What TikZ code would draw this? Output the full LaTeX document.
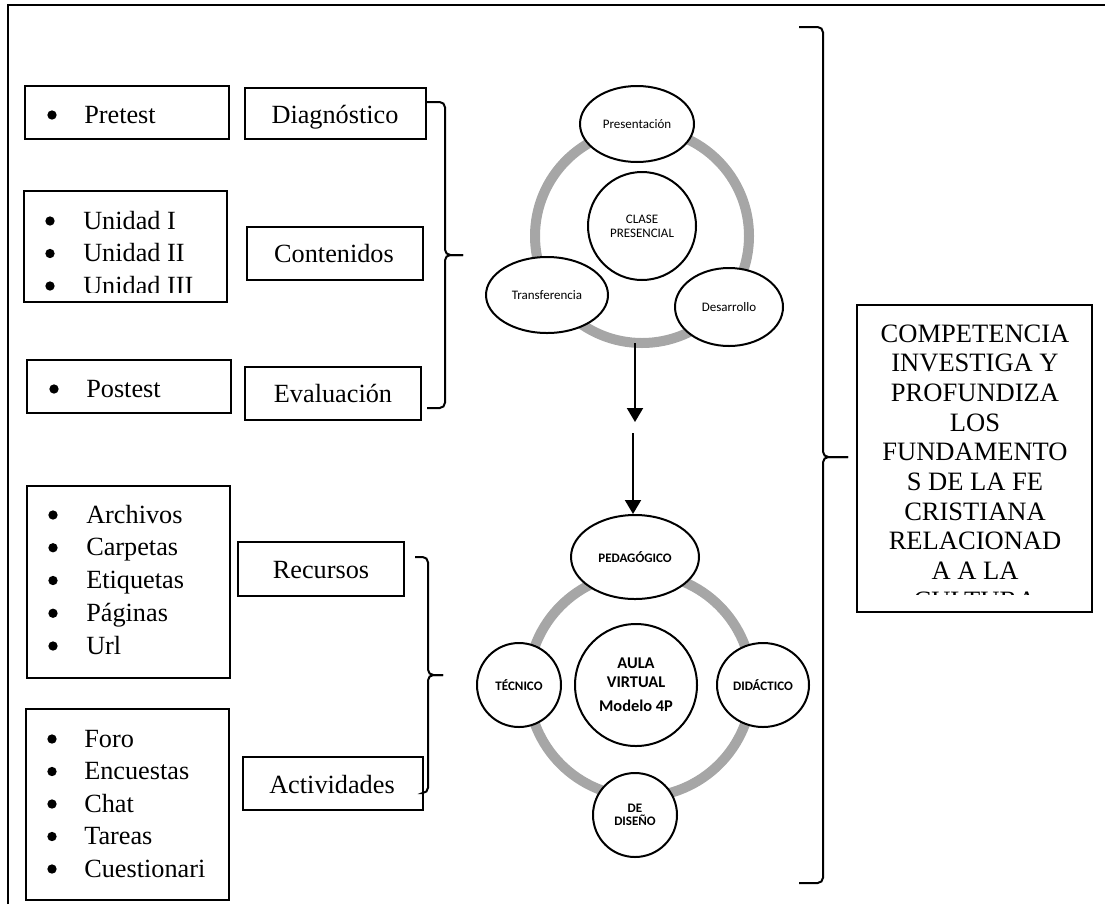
\documentclass[tikz,border=0pt]{standalone}
\usepackage{fontspec}
\setmainfont{Liberation Serif}
\newfontfamily\carlito{Carlito}
\usetikzlibrary{arrows.meta,shapes.geometric,fit}
\definecolor{ringgray}{RGB}{166,166,166}
\begin{document}
\begin{tikzpicture}[x=0.75pt,y=-0.75pt,
  box/.style={draw, line width=1.5pt, inner sep=0pt},
  lbl/.style={anchor=base, inner sep=0pt, font=\fontsize{19.7}{24}\selectfont},
  itm/.style={anchor=base west, inner sep=0pt, font=\fontsize{19.7}{24}\selectfont},
  bul/.style={circle, fill, inner sep=0pt, minimum size=7pt},
  comp/.style={anchor=base, inner sep=0pt, font=\fontsize{19.9}{22}\selectfont},
  ringc/.style={circle, draw=ringgray, line width=7.5pt, inner sep=0pt, outer sep=0pt},
  oval/.style={ellipse, draw, line width=1.5pt, fill=white, inner sep=0pt, align=center,
               font=\carlito\fontsize{9.75}{10.7}\selectfont},
  boval/.style={oval, font=\carlito\bfseries\fontsize{9.75}{10.2}\selectfont},
  brc/.style={line width=1.5pt, rounded corners=4pt},
  arr/.style={line width=1.5pt, -{Triangle[width=12pt,length=10.5pt]}}
]
\useasboundingbox (0,0) rectangle (1105,904);
% outer frame
\draw[line width=1.5pt] (8,904) -- (8,5) -- (1105,5);

% left upper boxes
\node[box, fit={(25,86)(229,139)}] (pre) {};
\node[bul] (preb) at (52,115) {};
\node[itm] (pret) at (84,123) {Pretest};
\node[box, fit={(245,88)(426,139)}] (diag) {};
\node[lbl] (diagt) at (335,123) {Diagnóstico};

\node[box, fit={(24,191)(227,302)}] (unid) {};
\begin{scope}
  \clip (24,191) rectangle (227,292);
  \node[bul] (u1b) at (50,221) {};
  \node[itm] (u1) at (83,229) {Unidad I};
  \node[bul] (u2b) at (50,253.5) {};
  \node[itm] (u2) at (83,261.5) {Unidad II};
  \node[bul] (u3b) at (50,286) {};
  \node[itm] (u3) at (83,294) {Unidad III};
\end{scope}
\node[box, fit={(247,227)(423,280)}] (cont) {};
\node[lbl] (contt) at (334,262) {Contenidos};

\node[box, fit={(27,360)(231,413)}] (post) {};
\node[bul] (postb) at (54,389) {};
\node[itm] (postt) at (86,397) {Postest};
\node[box, fit={(245,367)(421,420)}] (eval) {};
\node[lbl] (evalt) at (333,402) {Evaluación};

% left lower boxes
\node[box, fit={(27,486)(230,678)}] (arch) {};
\node[bul] at (53,515) {};      \node[itm] at (86,523) {Archivos};
\node[bul] at (53,547.75) {};   \node[itm] at (86,555.75) {Carpetas};
\node[bul] at (53,580.5) {};    \node[itm] at (86,588.5) {Etiquetas};
\node[bul] at (53,613.25) {};   \node[itm] at (86,621.25) {Páginas};
\node[bul] at (53,646) {};      \node[itm] at (86,654) {Url};
\node[box, fit={(238,542)(404,596)}] (recu) {};
\node[lbl] (recut) at (321,578) {Recursos};

\node[box, fit={(26,709)(229,900)}] (foro) {};
\node[bul] at (52,739) {};      \node[itm] at (84,747) {Foro};
\node[bul] at (52,771.5) {};    \node[itm] at (84,779.5) {Encuestas};
\node[bul] at (52,804) {};      \node[itm] at (84,812) {Chat};
\node[bul] at (52,836.5) {};    \node[itm] at (84,844.5) {Tareas};
\node[bul] at (52,869) {};      \node[itm] at (84,877) {Cuestionari};
\node[box, fit={(243,757)(423,810)}] (acti) {};
\node[lbl] (actit) at (332,793) {Actividades};

% braces
\draw[brc] (427,102) -- (445,102) -- (445,255) -- (463,255);
\draw[brc] (463,255) -- (445,255) -- (445,408) -- (427,408);
\draw[brc] (415,557) -- (428,557) -- (428,675) -- (443,675);
\draw[brc] (443,675) -- (428,675) -- (428,793) -- (423,793);
\draw[brc] (799,27) -- (823,27) -- (823,457) -- (848,457);
\draw[brc] (848,457) -- (823,457) -- (823,883) -- (799,883);

% upper cycle
\node[ringc, minimum size=160.5pt] (ring1) at (642,236) {};
\node[oval, minimum width=85.5pt, minimum height=57pt] (pres) at (637,124) {Presentación};
\node[oval, circle, minimum size=81pt] (clase) at (642,226) {CLASE\\PRESENCIAL};
\node[oval, minimum width=91.5pt, minimum height=57pt] (trans) at (547,295) {Transferencia};
\node[oval, minimum width=81pt, minimum height=58.5pt] (desa) at (729,307) {Desarrollo};

% arrows
\coordinate (g1) at (635,422);
\coordinate (g2) at (633,433);
\draw[arr] (g1 |- ring1.south) -- (g1);

% lower cycle
\node[ringc, minimum size=168pt] (ring2) at (640,685) {};
\node[boval, minimum width=96pt, minimum height=63pt] (ped) at (635,557) {PEDAGÓGICO};
\node[boval, circle, minimum size=91.5pt, font=\carlito\bfseries\fontsize{12.3}{14}\selectfont] (aula) at (636,685) {AULA\\VIRTUAL\\[4pt]Modelo 4P};
\node[boval, circle, minimum size=63pt] (tec) at (519,685) {TÉCNICO};
\node[boval, minimum width=69pt, minimum height=63pt] (did) at (763,685) {DIDÁCTICO};
\node[boval, circle, minimum size=63pt] (dis) at (635,815) {DE\\DISEÑO};

\draw[arr] (g2) -- (g2 |- ped.north);

% competence box
\node[box, fit={(857,305)(1092,612)}] (compbox) {};
\begin{scope}
  \clip (857,305) rectangle (1092,594);
  \node[comp] at (975,342) {COMPETENCIA};
  \node[comp] at (975,371.7) {INVESTIGA Y};
  \node[comp] at (975,401.4) {PROFUNDIZA};
  \node[comp] at (975,431.1) {LOS};
  \node[comp] at (975,460.8) {FUNDAMENTO};
  \node[comp] at (975,490.5) {S DE LA FE};
  \node[comp] at (975,520.2) {CRISTIANA};
  \node[comp] at (975,549.9) {RELACIONAD};
  \node[comp] at (975,579.6) {A A LA};
  \node[comp] at (975,609.3) {CULTURA};
\end{scope}
\end{tikzpicture}
\end{document}
